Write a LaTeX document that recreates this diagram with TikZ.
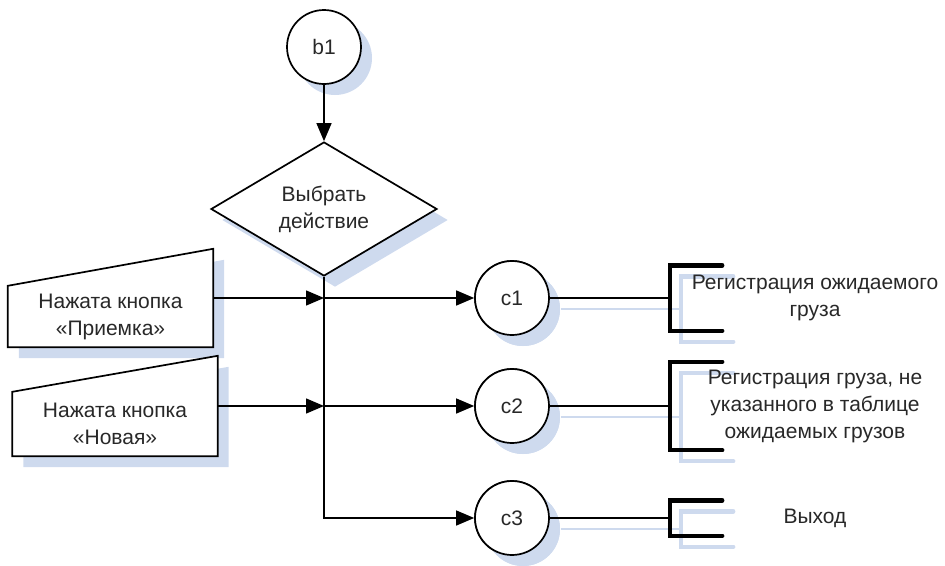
\documentclass[tikz,border=0pt]{standalone}
\usepackage{fontspec}
\setmainfont{Liberation Sans}
\usetikzlibrary{shapes.geometric,arrows.meta,calc,shadows}
\definecolor{shadowblue}{RGB}{206,218,238}
\definecolor{ink}{RGB}{40,40,40}
\begin{document}
\begin{tikzpicture}[x=1pt,y=-1pt,
  font=\fontsize{21}{27}\selectfont,
  shadowed/.style={drop shadow={shadow xshift=11pt,shadow yshift=-11pt,fill=shadowblue,opacity=1}},
  conn/.style={circle,draw,line width=1.7pt,minimum size=74pt,inner sep=0pt,fill=white,shadowed,text=ink},
  decision/.style={diamond,draw,line width=1.7pt,minimum width=226pt,minimum height=134pt,aspect=1.69,inner sep=0pt,fill=white,shadowed,text=ink,align=center},
  inarea/.style={inner sep=0pt,minimum width=205pt},
  txt/.style={text=ink,align=center,inner sep=0pt},
  flow/.style={line width=1.4pt,-{Triangle[length=18pt,width=15pt]}},
  link/.style={line width=1.4pt},
  brk/.style={inner sep=0pt,minimum width=52pt},
  brkline/.style={line width=4.4pt,line cap=round,line join=miter},
  inshape/.style={draw,fill=white,line width=1.7pt,line join=miter}]
\useasboundingbox (0,0) rectangle (945,565);

% annotation brackets (placed first so their shadows sit underneath)
\node[brk,minimum height=65pt] (k1) at (696,298) {};
\node[brk,minimum height=88pt] (k2) at (696,406) {};
\node[brk,minimum height=35pt] (k3) at (696,518) {};

% connectors on the right, with their shadows
\node[conn] (c1) at (512,298) {c1};
\node[conn] (c2) at (512,406) {c2};
\node[conn] (c3) at (512,518) {c3};

\foreach \c/\k in {c1/k1,c2/k2,c3/k3}{
  \draw[link,shadowblue] ($(\c.east)+(11,11)$) -- ($(\k.west)+(11,11)$);
  \draw[brkline,shadowblue] ($(\k.north east)+(11,11)$) -- ($(\k.north west)+(11,11)$)
        -- ($(\k.south west)+(11,11)$) -- ($(\k.south east)+(11,11)$);
}
\foreach \c in {c1,c2,c3}{
  \node[conn] at (\c) {\c};
}
\foreach \c/\k in {c1/k1,c2/k2,c3/k3}{
  \draw[link] (\c.east) -- (\k.west);
  \draw[brkline] (\k.north east) -- (\k.north west) -- (\k.south west) -- (\k.south east);
}

% annotation texts
\node[txt] (t1) at (815,298) {Регистрация ожидаемого\\груза};
\node[txt] (t2) at (815,406) {Регистрация груза, не\\указанного в таблице\\ожидаемых грузов};
\node[txt] (t3) at (815,518) {Выход};

% start connector and decision
\node[conn] (b1) at (324,47) {b1};
\node[decision] (dia) at (324,209) {Выбрать\\действие};
\draw[flow] (b1) -- (dia);

% manual inputs
\node[inarea,minimum height=98pt] (in1) at (110.5,298) {};
\fill[shadowblue] ($(in1.south west)+(11,11)$) -- ($(in1.south east)+(11,11)$)
   -- ($(in1.north east)+(11,11)$) -- ($(in1.north west)+(11,48)$) -- cycle;
\draw[inshape] (in1.south west) -- (in1.south east) -- (in1.north east)
   -- ($(in1.north west)+(0,37)$) -- cycle;
\node[txt] at ($(in1.south)+(0,-30.5)$) {Нажата кнопка\\«Приемка»};

\node[inarea,minimum height=100pt] (in2) at (115,406) {};
\fill[shadowblue] ($(in2.south west)+(11,11)$) -- ($(in2.south east)+(11,11)$)
   -- ($(in2.north east)+(11,11)$) -- ($(in2.north west)+(11,47)$) -- cycle;
\draw[inshape] (in2.south west) -- (in2.south east) -- (in2.north east)
   -- ($(in2.north west)+(0,36)$) -- cycle;
\node[txt] at ($(in2.south)+(0,-32)$) {Нажата кнопка\\«Новая»};

% flow lines
\draw[flow] (dia.south) |- (c3);
\coordinate (j1) at (in1.east -| dia.south);
\coordinate (j2) at (in2.east -| dia.south);
\draw[flow] (in1.east) -- (j1);
\draw[flow] (j1) -- (c1);
\draw[flow] (in2.east) -- (j2);
\draw[flow] (j2) -- (c2);
\end{tikzpicture}
\end{document}
